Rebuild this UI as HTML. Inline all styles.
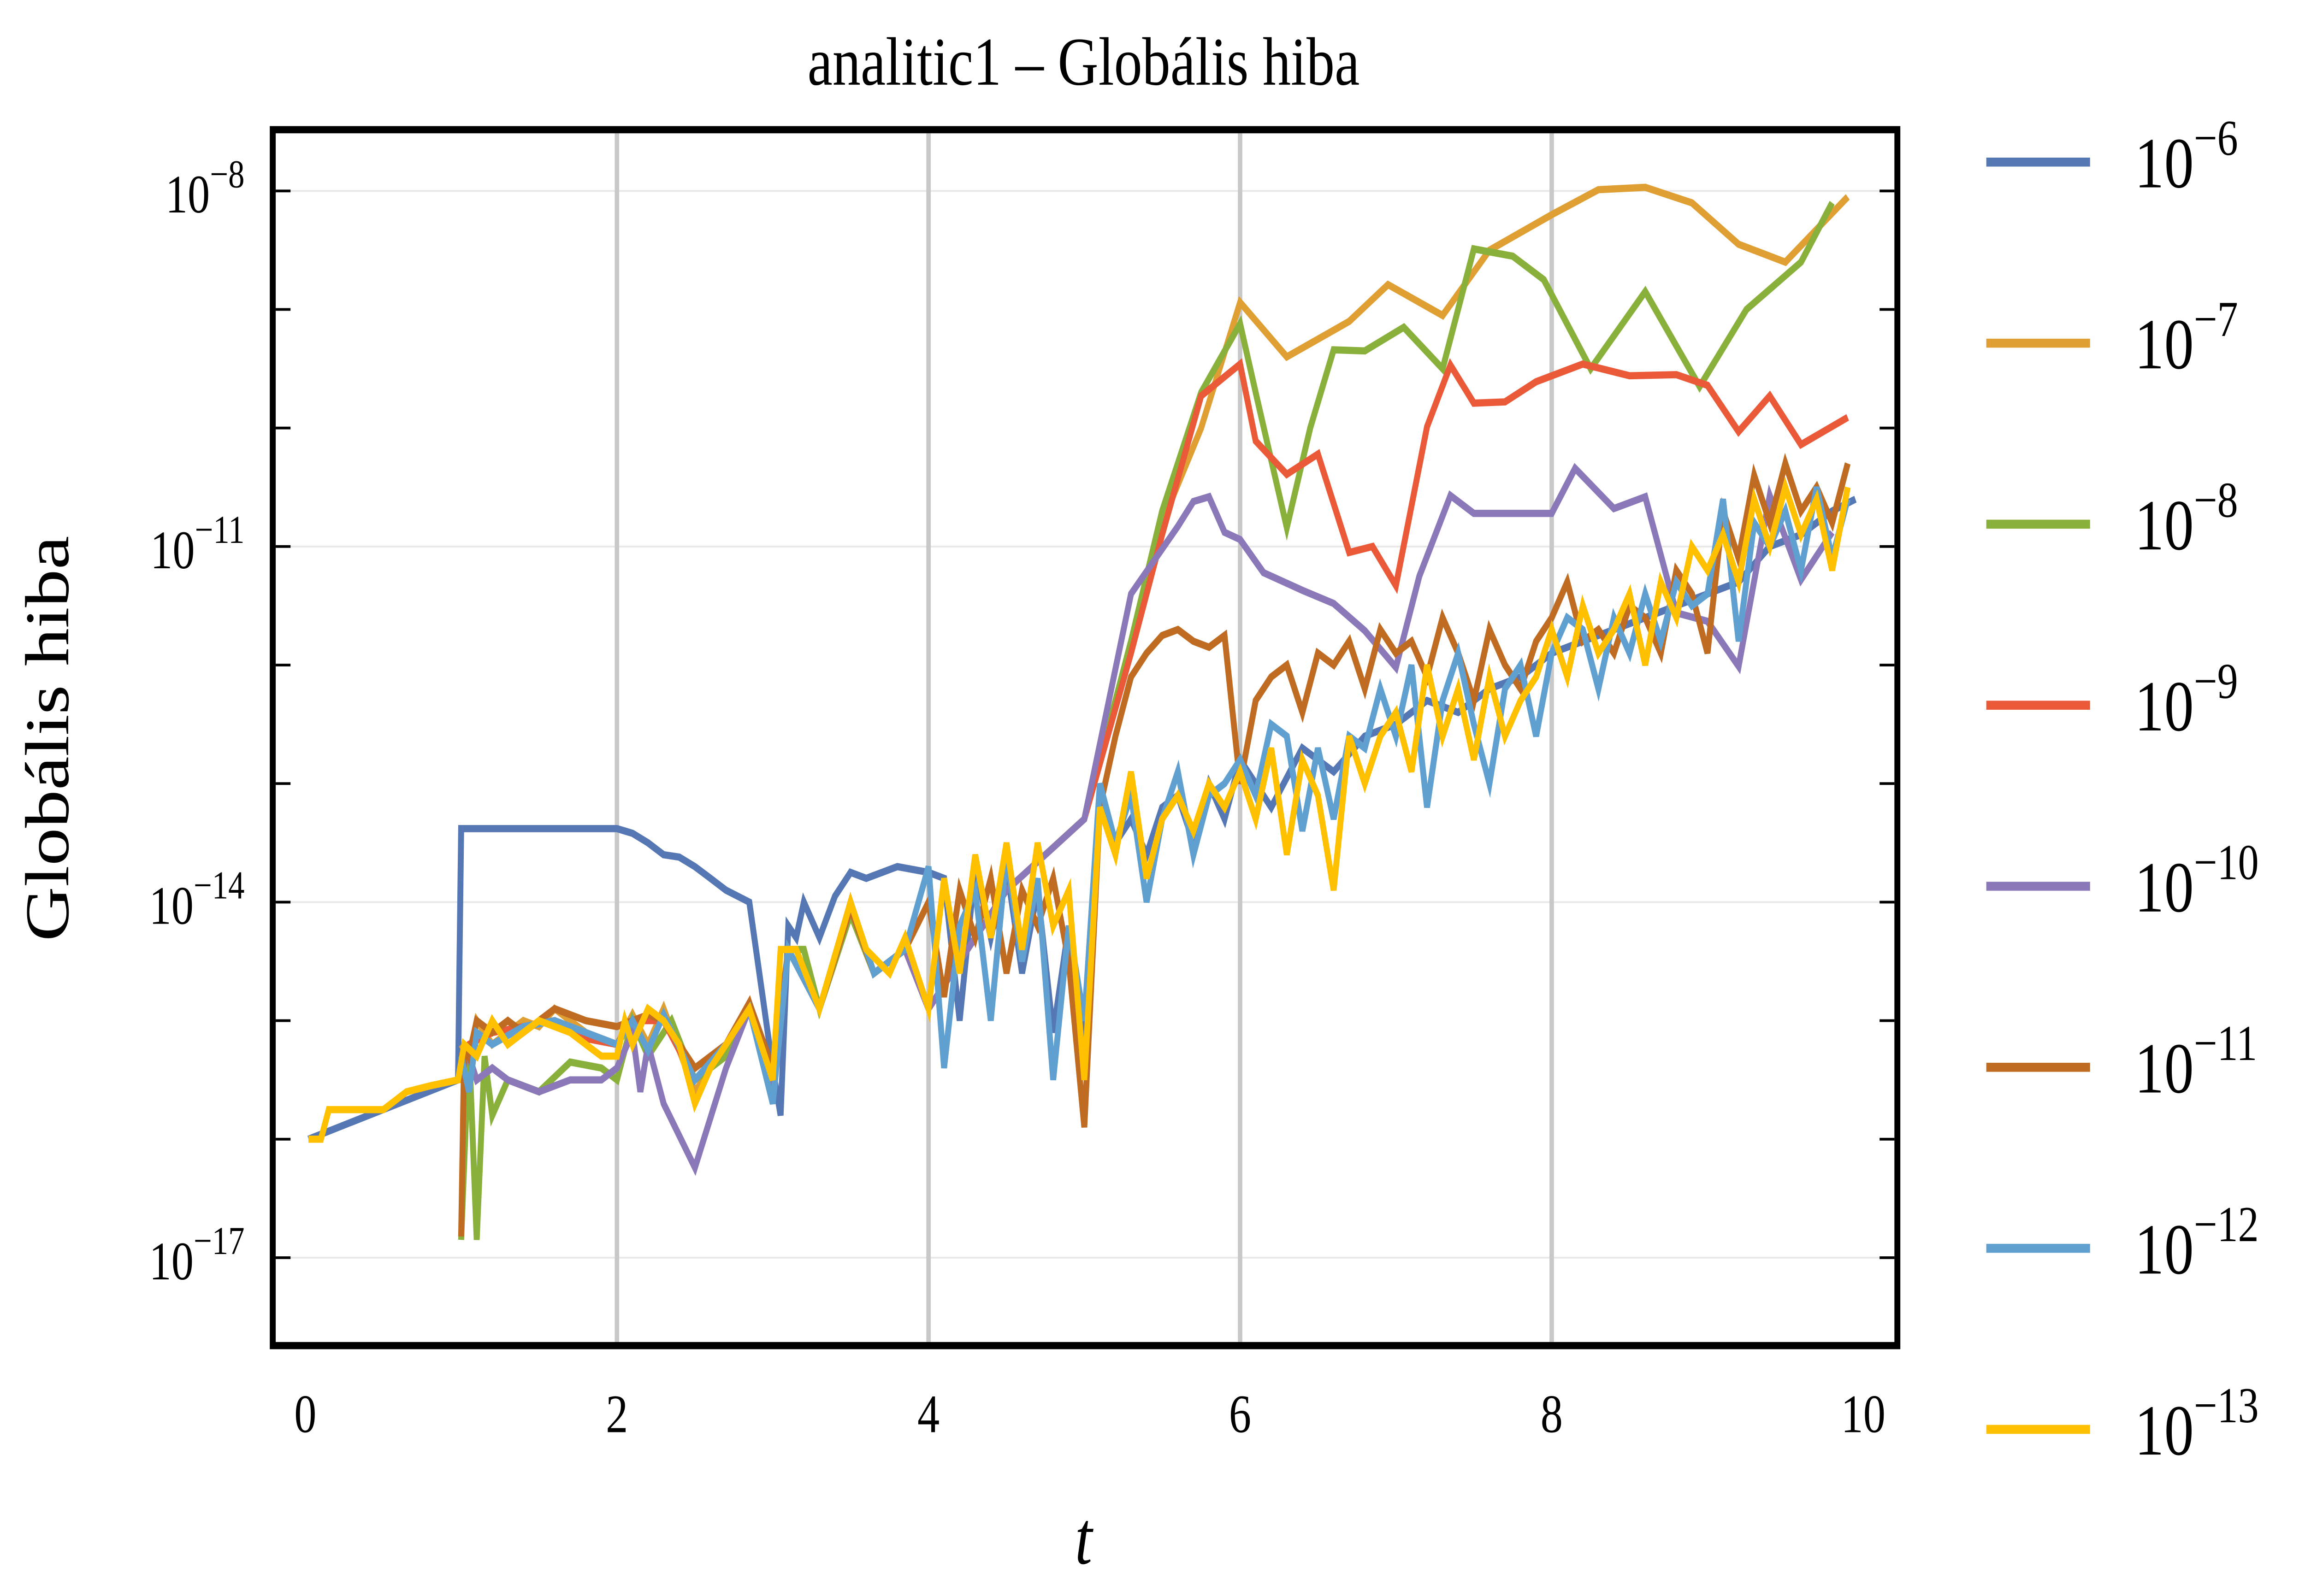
<!DOCTYPE html>
<html><head><meta charset="utf-8">
<style>
html,body{margin:0;padding:0;background:#fff;width:100%;height:100%;overflow:hidden;}
svg{display:block;position:fixed;left:0;top:0;width:100vw;height:100vh;}
text{font-family:"Liberation Serif",serif;fill:#000;}
</style></head>
<body>
<svg id="chart" viewBox="0 0 1555 886" preserveAspectRatio="none" xmlns="http://www.w3.org/2000/svg">
<g id="grid"></g>
<g id="series"></g>
<rect x="184" y="72" width="1096" height="675" fill="none" stroke="#000" stroke-width="4"/>
<g id="axes"></g>
<text x="731" y="47" font-size="38" text-anchor="middle">analitic1 – Globális hiba</text>
<text x="0" y="0" font-size="42" text-anchor="middle" transform="translate(46,410) rotate(-90)">Globális hiba</text>
<text x="731" y="868" font-size="42" font-style="italic" text-anchor="middle">t</text>
<g id="legend"></g>
</svg>
<script>
const xTicks=[0,2,4,6,8,10];
const yTicks=[-8,-11,-14,-17];
const yMinor=[-9,-10,-12,-13,-15,-16];
const seriesNames=["10^-6","10^-7","10^-8","10^-9","10^-10","10^-11","10^-12","10^-13"];
const seriesExp=["−6","−7","−8","−9","−10","−11","−12","−13"];
const colors=["#5577b3","#e09f33","#88b03a","#ea5a38","#8a78b8","#c06b22","#5fa0d0","#ffc000"];

const tNoise=[4.0,4.1,4.2,4.3,4.4,4.5,4.6,4.7,4.8,4.9,5.0,5.1,5.2,5.3,5.4,5.5,5.6,5.7,5.8,5.9,6.0,6.1,6.2,6.3,6.4,6.5,6.6,6.7,6.8,6.9,7.0,7.1,7.2,7.3,7.4,7.5,7.6,7.7,7.8,7.9,8.0,8.1,8.2,8.3,8.4,8.5,8.6,8.7,8.8,8.9,9.0,9.1,9.2,9.3,9.4,9.5,9.6,9.7,9.8,9.9];

const t1=[0.02,0.98,1.0,1.02,1.2,1.4,1.6,1.8,2.0,2.1,2.2,2.3,2.4,2.5,2.6,2.7,2.85,3.0,3.05,3.1,3.15,3.2,3.3,3.4,3.5,3.6,3.8,4.0,4.1,4.2,4.3,4.4,4.5,4.6,4.7,4.8,4.9,5.0,5.1,5.2,5.3,5.4,5.5,5.6,5.7,5.8,5.9,6.0,6.2,6.4,6.6,6.8,7.0,7.2,7.4,7.6,7.8,8.0,8.2,8.4,8.6,8.8,9.0,9.2,9.4,9.6,9.8,9.95];
const v1=[-16.0,-15.5,-13.38,-13.38,-13.38,-13.38,-13.38,-13.38,-13.38,-13.42,-13.5,-13.6,-13.62,-13.7,-13.8,-13.9,-14.0,-15.4,-15.8,-14.2,-14.3,-14.0,-14.3,-13.95,-13.75,-13.8,-13.7,-13.75,-13.8,-15.0,-13.7,-14.3,-13.7,-14.6,-13.9,-15.1,-14.2,-15.2,-13.2,-13.5,-13.3,-13.6,-13.2,-13.1,-13.5,-13.0,-13.3,-12.8,-13.2,-12.7,-12.9,-12.6,-12.5,-12.3,-12.4,-12.2,-12.1,-11.9,-11.8,-11.7,-11.6,-11.5,-11.4,-11.3,-11.0,-10.9,-10.7,-10.6];

const t2=[1.0,1.05,1.1,1.2,1.3,1.4,1.5,1.6,1.8,2.0,2.1,2.2,2.3,2.5,2.7,2.85,3.0,3.1,3.2,3.3,3.5,3.65,3.85,4.0,4.5,5.0,5.3,5.5,5.75,6.0,6.3,6.7,6.95,7.3,7.6,8.0,8.3,8.6,8.9,9.2,9.5,9.9];
const v2=[-15.2,-15.3,-15.0,-15.2,-15.1,-15.0,-15.05,-14.9,-15.1,-15.2,-14.95,-15.2,-14.9,-15.6,-15.2,-14.85,-15.5,-14.4,-14.4,-14.9,-14.1,-14.6,-14.4,-14.9,-13.9,-13.3,-11.8,-10.8,-10.0,-8.94,-9.4,-9.1,-8.79,-9.05,-8.5,-8.2,-7.99,-7.97,-8.1,-8.45,-8.6,-8.05];

const t3=[1.0,1.05,1.1,1.15,1.2,1.3,1.5,1.7,1.9,2.0,2.1,2.2,2.35,2.5,2.7,2.85,3.0,3.1,3.2,3.3,3.5,3.65,3.85,4.0,4.5,5.0,5.3,5.5,5.75,6.0,6.1,6.3,6.45,6.6,6.8,7.05,7.3,7.5,7.75,7.95,8.25,8.6,8.95,9.25,9.6,9.8];
const v3=[-16.85,-15.2,-16.85,-15.3,-15.8,-15.5,-15.6,-15.35,-15.4,-15.5,-15.0,-15.3,-15.0,-15.5,-15.3,-14.9,-15.6,-14.4,-14.4,-14.9,-14.1,-14.6,-14.4,-14.9,-13.9,-13.3,-11.8,-10.7,-9.7,-9.12,-9.7,-10.84,-10.0,-9.34,-9.35,-9.15,-9.5,-8.49,-8.55,-8.75,-9.5,-8.85,-9.65,-9.0,-8.6,-8.1];

const t4=[1.0,1.05,1.2,1.4,1.6,1.8,2.0,2.1,2.3,2.5,2.7,2.85,3.0,3.1,3.3,3.5,3.65,3.85,4.0,4.5,5.0,5.3,5.5,5.75,6.0,6.1,6.3,6.5,6.7,6.85,7.0,7.2,7.35,7.5,7.7,7.9,8.2,8.5,8.8,9.0,9.2,9.4,9.6,9.9];
const v4=[-15.3,-15.2,-15.1,-15.05,-15.0,-15.15,-15.2,-15.0,-15.0,-15.5,-15.2,-14.9,-15.5,-14.4,-14.9,-14.0,-14.6,-14.4,-14.9,-13.9,-13.3,-11.9,-10.9,-9.73,-9.46,-10.11,-10.39,-10.22,-11.05,-11.0,-11.33,-9.99,-9.47,-9.79,-9.78,-9.61,-9.46,-9.56,-9.55,-9.64,-10.03,-9.73,-10.14,-9.91];

const t5=[1.0,1.05,1.1,1.2,1.3,1.5,1.7,1.9,2.0,2.1,2.15,2.2,2.3,2.5,2.7,2.85,3.0,3.1,3.3,3.5,3.65,3.85,4.0,4.5,5.0,5.3,5.6,5.7,5.8,5.9,6.0,6.15,6.4,6.6,6.8,7.0,7.15,7.35,7.5,7.8,8.0,8.15,8.4,8.6,8.8,9.0,9.2,9.4,9.6,9.8];
const v5=[-15.4,-15.3,-15.5,-15.4,-15.5,-15.6,-15.5,-15.5,-15.4,-15.1,-15.6,-15.2,-15.7,-16.24,-15.4,-14.9,-15.6,-14.4,-14.9,-14.05,-14.6,-14.4,-14.9,-13.9,-13.3,-11.4,-10.83,-10.62,-10.58,-10.88,-10.94,-11.22,-11.37,-11.48,-11.71,-12.02,-11.25,-10.57,-10.72,-10.72,-10.72,-10.34,-10.68,-10.58,-11.56,-11.63,-12.01,-10.57,-11.28,-10.88];

const t6e=[1.0,1.02,1.05,1.1,1.2,1.3,1.4,1.6,1.8,2.0,2.1,2.2,2.3,2.5,2.7,2.85,3.0,3.1,3.3,3.5,3.65,3.85];
const v6e=[-16.82,-15.2,-15.3,-15.0,-15.1,-15.0,-15.1,-14.9,-15.0,-15.05,-15.0,-14.95,-15.0,-15.4,-15.2,-14.85,-15.4,-14.4,-14.9,-14.05,-14.6,-14.4];
const v6=[-14.0,-14.8,-13.9,-14.3,-13.8,-14.6,-13.9,-14.2,-13.8,-14.5,-15.9,-13.2,-12.6,-12.1,-11.9,-11.75,-11.7,-11.8,-11.85,-11.75,-13.0,-12.3,-12.1,-12.0,-12.4,-11.9,-12.0,-11.8,-12.2,-11.7,-11.9,-11.8,-12.1,-11.6,-11.9,-12.3,-11.7,-12.0,-12.2,-11.8,-11.6,-11.3,-11.8,-11.7,-11.9,-11.5,-11.6,-11.9,-11.2,-11.4,-11.9,-10.7,-11.1,-10.4,-10.8,-10.3,-10.7,-10.5,-10.8,-10.3];

const t7e=[1.0,1.05,1.1,1.2,1.4,1.6,1.8,2.0,2.1,2.2,2.3,2.5,2.7,2.85,3.0,3.1,3.3,3.5,3.65,3.85];
const v7e=[-15.3,-15.6,-15.1,-15.2,-15.05,-15.0,-15.1,-15.2,-15.0,-15.25,-14.95,-15.5,-15.2,-14.9,-15.7,-14.4,-14.9,-14.0,-14.6,-14.4];
const v7=[-13.7,-15.4,-14.2,-13.9,-15.0,-13.6,-14.5,-13.8,-15.5,-14.2,-15.0,-13.0,-13.5,-13.1,-14.0,-13.3,-12.9,-13.6,-13.1,-13.0,-12.8,-13.1,-12.5,-12.6,-13.4,-12.7,-13.3,-12.6,-12.7,-12.2,-12.6,-12.0,-13.2,-12.3,-11.9,-12.5,-13.0,-12.2,-12.0,-12.6,-11.9,-11.6,-11.7,-12.2,-11.6,-11.9,-11.4,-11.8,-11.3,-11.5,-11.4,-10.6,-11.8,-10.8,-11.0,-10.7,-11.2,-10.5,-11.1,-10.6];

const t8e=[0.02,0.1,0.15,0.3,0.5,0.65,0.8,0.98,1.02,1.1,1.2,1.3,1.4,1.5,1.6,1.7,1.8,1.9,2.0,2.05,2.1,2.2,2.3,2.4,2.5,2.6,2.7,2.85,3.0,3.05,3.15,3.3,3.5,3.6,3.75,3.85];
const v8e=[-16.0,-16.0,-15.75,-15.75,-15.75,-15.6,-15.55,-15.5,-15.2,-15.3,-15.0,-15.2,-15.1,-15.0,-15.05,-15.1,-15.2,-15.3,-15.3,-15.0,-15.2,-14.9,-15.0,-15.2,-15.7,-15.4,-15.2,-14.9,-15.5,-14.4,-14.4,-14.9,-14.0,-14.4,-14.6,-14.3];
const v8=[-14.9,-13.8,-14.6,-13.6,-14.3,-13.5,-14.4,-13.5,-14.2,-13.9,-15.5,-13.2,-13.6,-12.9,-13.8,-13.3,-13.1,-13.4,-13.0,-13.2,-12.9,-13.3,-12.7,-13.6,-12.8,-13.1,-13.9,-12.6,-13.0,-12.6,-12.4,-12.9,-12.0,-12.6,-12.2,-12.8,-12.1,-12.6,-12.3,-12.1,-11.7,-12.1,-11.5,-11.9,-11.7,-11.4,-12.0,-11.3,-11.6,-11.0,-11.2,-10.9,-11.3,-10.6,-11.0,-10.5,-10.9,-10.6,-11.2,-10.5];

const NS="http://www.w3.org/2000/svg";
const X=t=>206+t*105.1;
const Y=v=>106+(-8-v)*65.8;
function el(tag,attrs,parent,txt){const e=document.createElementNS(NS,tag);for(const k in attrs)e.setAttribute(k,attrs[k]);if(txt!==undefined)e.textContent=txt;parent.appendChild(e);return e;}

const grid=document.getElementById('grid'),axes=document.getElementById('axes'),sg=document.getElementById('series'),lg=document.getElementById('legend');
yTicks.concat(yMinor).forEach(v=>{
  const l=el('line',{x1:184,x2:1280,y1:Y(v),y2:Y(v),stroke:yTicks.includes(v)?'#e8e8e8':'none','stroke-width':1},grid);
  
  
  [[186,196],[1268,1278]].forEach(p=>{const tk=el('line',{x1:p[0],x2:p[1],y1:Y(v),y2:Y(v),stroke:'#000','stroke-width':1.5},axes);
  
  });
});
xTicks.forEach(t=>{
  if(t>0&&t<10){const l=el('line',{x1:X(t),x2:X(t),y1:74,y2:745,stroke:'#c8c8c8','stroke-width':3},grid);
  
  }
  const tx=el('text',{x:X(t),y:795,'font-size':30,'text-anchor':'middle'},axes,String(t));
  
  
});
yTicks.forEach(v=>{
  const tx=el('text',{x:165,y:Y(v)+12,'font-size':30,'text-anchor':'end'},axes);
  
  
  el('tspan',{},tx,'10');
  el('tspan',{dy:-14,'font-size':22},tx,'−'+(-v));
});
const data=[[t1,v1],[t2,v2],[t3,v3],[t4,v4],[t5,v5],[t6e.concat(tNoise),v6e.concat(v6)],[t7e.concat(tNoise),v7e.concat(v7)],[t8e.concat(tNoise),v8e.concat(v8)]];
data.forEach((d,i)=>{
  const pts=d[0].map((t,j)=>X(t).toFixed(1)+','+Y(d[1][j]).toFixed(1)).join(' ');
  const p=el('polyline',{points:pts,fill:'none',stroke:colors[i],'stroke-width':4,'stroke-linejoin':'miter'},sg);
  
  
  const ly=90+i*100.5;
  const g=el('g',{},lg);
  
  
  el('line',{x1:1340,x2:1410,y1:ly,y2:ly,stroke:colors[i],'stroke-width':5},g);
  const tx=el('text',{x:1440,y:ly+14,'font-size':40},g);
  el('tspan',{},tx,'10');
  el('tspan',{dy:-18,'font-size':28},tx,seriesExp[i]);
});
</script>
</body></html>
